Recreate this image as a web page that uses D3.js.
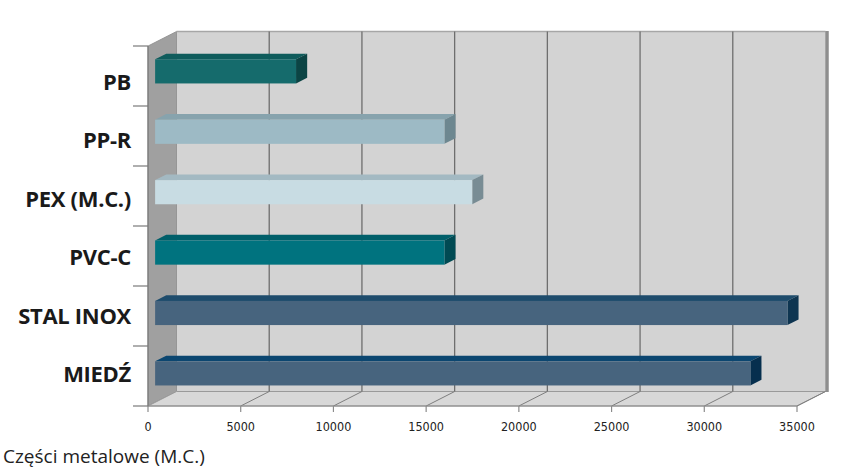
<!DOCTYPE html>
<html>
<head>
<meta charset="utf-8">
<script src="https://cdn.jsdelivr.net/npm/d3@7"></script>
<style>
  body { margin: 0; background: #fff; }
</style>
</head>
<body>
<div id="chart"></div>
<script>
const width = 864;
const height = 472;

// data
const categories = ["PB", "PP-R", "PEX (M.C.)", "PVC-C", "STAL INOX", "MIEDŹ"];
const values = [7600, 15600, 17100, 15600, 34100, 32100];
const tickValues = [0, 5000, 10000, 15000, 20000, 25000, 30000, 35000];
const xTitle = "Części metalowe (M.C.)";

// front / top / side colour of each bar
const frontColors = ["#156b6c", "#9dbac5", "#c8dce3", "#00737f", "#47647e", "#47647e"];
const topColors   = ["#0f5c5c", "#87a3ad", "#a3b9c2", "#005f6a", "#1e4c6c", "#0b4670"];
const sideColors  = ["#0b4444", "#6d8790", "#788c94", "#004a53", "#0e3551", "#062f4e"];

// 3d depth offset of the back wall
const dx = 28.5, dy = 14.5;
const f0 = 0.25, f1 = 0.64; // bar depth inside the box

const x = d3.scaleLinear().domain([0, 35000]).range([148, 797]);
const y = d3.scaleBand().domain(categories).range([46, 406]).paddingInner(0.6).paddingOuter(0.28);
const yLabel = d3.scalePoint().domain(categories).range([90, 382]);

const svg = d3.select("#chart")
  .append("svg")
  .attr("width", width)
  .attr("height", height);

const x0 = x(0), x1 = x(35000), yTop = 46, yBot = 406;

// back wall
svg.append("rect")
  .attr("x", x0 + dx).attr("y", yTop - dy)
  .attr("width", x1 - x0).attr("height", yBot - yTop)
  .attr("fill", "#d3d3d3");

// left wall
svg.append("polygon")
  .attr("points", [[x0, yTop], [x0 + dx, yTop - dy], [x0 + dx, yBot - dy], [x0, yBot]].join(" "))
  .attr("fill", "#a0a0a0")
  .attr("stroke", "#8a8a8a")
  .attr("stroke-width", 0.8);

// floor
svg.append("polygon")
  .attr("points", [[x0, yBot], [x1, yBot], [x1 + dx, yBot - dy], [x0 + dx, yBot - dy]].join(" "))
  .attr("fill", "#d8d8d8")
  .attr("stroke", "#9a9a9a")
  .attr("stroke-width", 1);

// top and right edges of the back wall
svg.append("line")
  .attr("x1", x0 + dx).attr("x2", x1 + dx)
  .attr("y1", yTop - dy).attr("y2", yTop - dy)
  .attr("stroke", "#a6a6a6").attr("stroke-width", 1.5);
svg.append("line")
  .attr("x1", x1 + dx + 1.5).attr("x2", x1 + dx + 1.5)
  .attr("y1", yTop - dy - 0.5).attr("y2", yBot - dy + 0.5)
  .attr("stroke", "#8e8e8e").attr("stroke-width", 3.5);

// gridlines on back wall
svg.selectAll(".grid")
  .data(tickValues.filter(d => d > 0 && d < 35000))
  .enter()
  .append("line")
  .attr("class", "grid")
  .attr("x1", d => x(d) + dx).attr("x2", d => x(d) + dx)
  .attr("y1", yTop - dy).attr("y2", yBot - dy)
  .attr("stroke", "#6e6e6e").attr("stroke-width", 1.3);

// gridlines on floor
svg.selectAll(".floorline")
  .data(tickValues.filter(d => d > 0))
  .enter()
  .append("line")
  .attr("class", "floorline")
  .attr("x1", d => x(d) + dx).attr("x2", d => x(d))
  .attr("y1", yBot - dy).attr("y2", yBot)
  .attr("stroke", "#7e7e7e").attr("stroke-width", 1);

// front axis line and ticks
svg.append("line")
  .attr("x1", x0).attr("x2", x1)
  .attr("y1", yBot).attr("y2", yBot)
  .attr("stroke", "#8c8c8c").attr("stroke-width", 1.2);
svg.selectAll(".xtick")
  .data(tickValues)
  .enter()
  .append("line")
  .attr("class", "xtick")
  .attr("x1", d => x(d)).attr("x2", d => x(d))
  .attr("y1", yBot).attr("y2", yBot + 6)
  .attr("stroke", "#8c8c8c").attr("stroke-width", 1.2);

svg.selectAll(".xlabel")
  .data(tickValues)
  .enter()
  .append("text")
  .attr("class", "xlabel")
  .attr("x", d => x(d))
  .attr("y", 431)
  .attr("text-anchor", "middle")
  .style("font-family", "'Liberation Sans Narrow', 'DejaVu Sans Condensed', sans-serif")
  .style("font-size", "12.5px")
  .attr("fill", "#222")
  .text(d => d);

// left axis line and category ticks
svg.append("line")
  .attr("x1", x0).attr("x2", x0)
  .attr("y1", yTop).attr("y2", yBot)
  .attr("stroke", "#7a7a7a").attr("stroke-width", 1.2);
const bandEdges = d3.range(categories.length + 1).map(i => yTop + i * (yBot - yTop) / categories.length);
svg.selectAll(".ytick")
  .data(bandEdges)
  .enter()
  .append("line")
  .attr("class", "ytick")
  .attr("x1", x0 - 15).attr("x2", x0)
  .attr("y1", d => d).attr("y2", d => d)
  .attr("stroke", "#7a7a7a").attr("stroke-width", 1.2);

// bars (front face, top face, side face)
const bars = svg.selectAll(".bar")
  .data(categories.map((c, i) => ({ c: c, v: values[i], i: i })))
  .enter()
  .append("g")
  .attr("class", "bar");

const bw = y.bandwidth();

bars.append("polygon")
  .attr("points", d => {
    const xa = x(0), xb = x(d.v), ya = y(d.c);
    return [[xa + f0 * dx, ya - f0 * dy], [xb + f0 * dx, ya - f0 * dy],
            [xb + f1 * dx, ya - f1 * dy], [xa + f1 * dx, ya - f1 * dy]].join(" ");
  })
  .attr("fill", d => topColors[d.i]);

bars.append("polygon")
  .attr("points", d => {
    const xb = x(d.v), ya = y(d.c);
    return [[xb + f0 * dx, ya - f0 * dy], [xb + f1 * dx, ya - f1 * dy],
            [xb + f1 * dx, ya + bw - f1 * dy], [xb + f0 * dx, ya + bw - f0 * dy]].join(" ");
  })
  .attr("fill", d => sideColors[d.i]);

bars.append("rect")
  .attr("x", x(0) + f0 * dx)
  .attr("y", d => y(d.c) - f0 * dy)
  .attr("width", d => x(d.v) - x(0))
  .attr("height", bw)
  .attr("fill", d => frontColors[d.i]);

// category labels
svg.selectAll(".ylabel")
  .data(categories)
  .enter()
  .append("text")
  .attr("class", "ylabel")
  .attr("x", 131)
  .attr("y", d => yLabel(d))
  .attr("text-anchor", "end")
  .style("font-family", "'Open Sans', sans-serif")
  .style("font-weight", "bold")
  .style("font-size", "22px")
  .style("letter-spacing", "-0.3px")
  .attr("fill", "#1a1a1a")
  .text(d => d);

// axis title
svg.append("text")
  .attr("x", 3)
  .attr("y", 463)
  .style("font-family", "'Open Sans', sans-serif")
  .style("font-size", "19px")
  .attr("fill", "#222")
  .text(xTitle);
</script>
</body>
</html>
